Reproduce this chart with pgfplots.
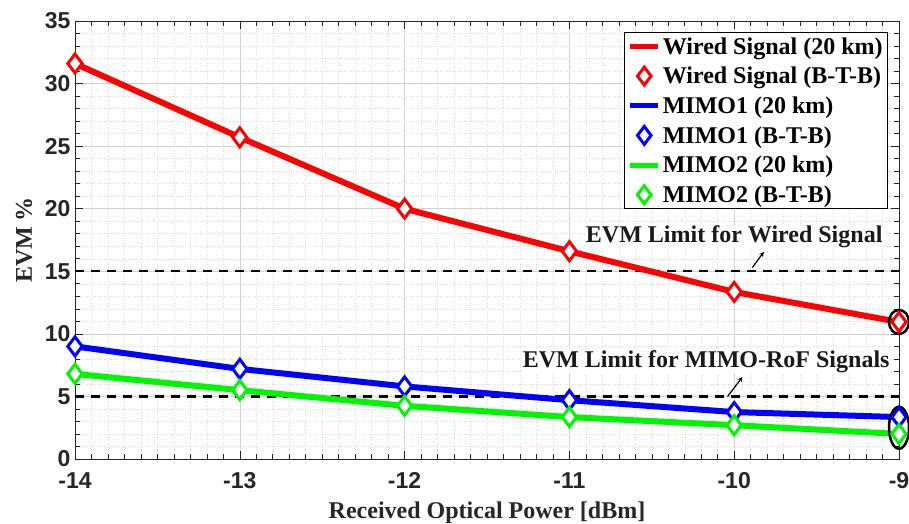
\documentclass[border=0pt]{standalone}
\usepackage{pgfplots}
\pgfplotsset{compat=1.18}
\usepackage{fontspec}
\setmainfont{Liberation Serif}
\newfontfamily\ticksans{Liberation Sans}
\definecolor{mred}{RGB}{255,0,0}
\definecolor{mblue}{RGB}{0,0,255}
\definecolor{mgreen}{RGB}{0,245,0}
\begin{document}
\begin{tikzpicture}
\path[use as bounding box] (-75pt,-65pt) rectangle (834pt,459pt);
\begin{axis}[
  at={(0pt,0pt)}, anchor=south west,
  scale only axis, width=824pt, height=438pt,
  xmin=-14, xmax=-9, ymin=0, ymax=35,
  xtick={-14,-13,-12,-11,-10,-9}, ytick={0,5,10,15,20,25,30,35},
  minor x tick num=9, minor y tick num=4,
  grid=both,
  major grid style={gray!35, line width=0.5pt},
  minor grid style={gray!25, dotted, line width=0.5pt},
  tick align=inside,
  major tick length=8pt, minor tick length=5pt,
  every tick/.style={black!85, line width=0.6pt},
  axis line style={black!85, line width=0.6pt},
  /pgf/number format/assume math mode=true,
  tick label style={font=\ticksans\bfseries\fontsize{23}{23}\selectfont, text=black!85},
  xticklabel style={yshift=-10pt},
  yticklabel style={xshift=-1pt},
  xlabel={Received Optical Power [dBm]},
  ylabel={EVM \%},
  every axis x label/.style={at={(axis description cs:0.5,0)}, anchor=north, inner sep=0pt, yshift=-43pt, font=\bfseries\fontsize{24}{24}\selectfont, text=black!85},
  every axis y label/.style={at={(axis description cs:0,0.5)}, anchor=center, rotate=90, yshift=51pt, font=\bfseries\fontsize{24}{24}\selectfont, text=black!85},
  clip=false,
  legend style={at={(1,1)}, anchor=north east, xshift=-11pt, yshift=-11pt,
    draw=black, line width=0.8pt, fill=white,
    font=\bfseries\fontsize{24}{24}\selectfont, row sep=7.5pt, inner sep=3pt,
    nodes={inner xsep=2pt}},
  legend cell align=left,
]
% dashed limits
\addplot[forget plot, black, line width=2.2pt, dash pattern=on 9pt off 7pt] coordinates {(-14,15) (-9,15)};
\addplot[forget plot, black, line width=2.2pt, dash pattern=on 9pt off 7pt] coordinates {(-14,5) (-9,5)};

\addplot[mred, line width=6pt, legend image code/.code={\draw[mred, line width=5pt] (0pt,0pt) -- (28pt,0pt);}] coordinates {
(-14,31.6) (-13,25.7) (-12,20.0) (-11,16.6) (-10,13.35) (-9,10.95)};
\addlegendentry{Wired Signal (20 km)}
\addplot[only marks, mred, mark=diamond*, mark size=9.5pt, mark options={fill=white, line width=3pt}, legend image code/.code={\draw[mred, line width=3pt, fill=white] plot[mark=diamond*, mark size=9pt] coordinates {(14pt,0pt)};}] coordinates {
(-14,31.6) (-13,25.7) (-12,20.0) (-11,16.6) (-10,13.35) (-9,10.95)};
\addlegendentry{Wired Signal (B-T-B)}

\addplot[mblue, line width=6pt, legend image code/.code={\draw[mblue, line width=5pt] (0pt,0pt) -- (28pt,0pt);}] coordinates {
(-14,9.0) (-13,7.2) (-12,5.8) (-11,4.7) (-10,3.75) (-9,3.35)};
\addlegendentry{MIMO1 (20 km)}
\addplot[only marks, mblue, mark=diamond*, mark size=9.5pt, mark options={fill=white, line width=3pt}, legend image code/.code={\draw[mblue, line width=3pt, fill=white] plot[mark=diamond*, mark size=9pt] coordinates {(14pt,0pt)};}] coordinates {
(-14,9.0) (-13,7.2) (-12,5.8) (-11,4.7) (-10,3.75) (-9,3.35)};
\addlegendentry{MIMO1 (B-T-B)}

\addplot[mgreen, line width=6pt, legend image code/.code={\draw[mgreen, line width=5pt] (0pt,0pt) -- (28pt,0pt);}] coordinates {
(-14,6.8) (-13,5.5) (-12,4.25) (-11,3.35) (-10,2.7) (-9,2.0)};
\addlegendentry{MIMO2 (20 km)}
\addplot[only marks, mgreen, mark=diamond*, mark size=9.5pt, mark options={fill=white, line width=3pt}, legend image code/.code={\draw[mgreen, line width=3pt, fill=white] plot[mark=diamond*, mark size=9pt] coordinates {(14pt,0pt)};}] coordinates {
(-14,6.8) (-13,5.5) (-12,4.25) (-11,3.35) (-10,2.7) (-9,2.0)};
\addlegendentry{MIMO2 (B-T-B)}

% annotations
\node[font=\bfseries\fontsize{24}{24}\selectfont, text=black!90, fill=white, inner sep=1pt] at (axis cs:-10.0,17.75) {EVM Limit for Wired Signal};
\node[font=\bfseries\fontsize{24}{24}\selectfont, text=black!90, fill=white, inner sep=1pt] at (axis cs:-10.17,7.8) {EVM Limit for MIMO-RoF Signals};
\draw[-stealth, black, line width=1.2pt] (axis cs:-9.89,15.3) -- (axis cs:-9.82,16.55);
\draw[-stealth, black, line width=1.2pt] (axis cs:-10.04,5.0) -- (axis cs:-9.95,6.55);
\draw[black, line width=2.5pt] (axis cs:-9,10.95) ellipse [x radius=10pt, y radius=12pt];
\draw[black, line width=2.5pt] (axis cs:-9,2.5) ellipse [x radius=10pt, y radius=21pt];
\end{axis}
\end{tikzpicture}
\end{document}
